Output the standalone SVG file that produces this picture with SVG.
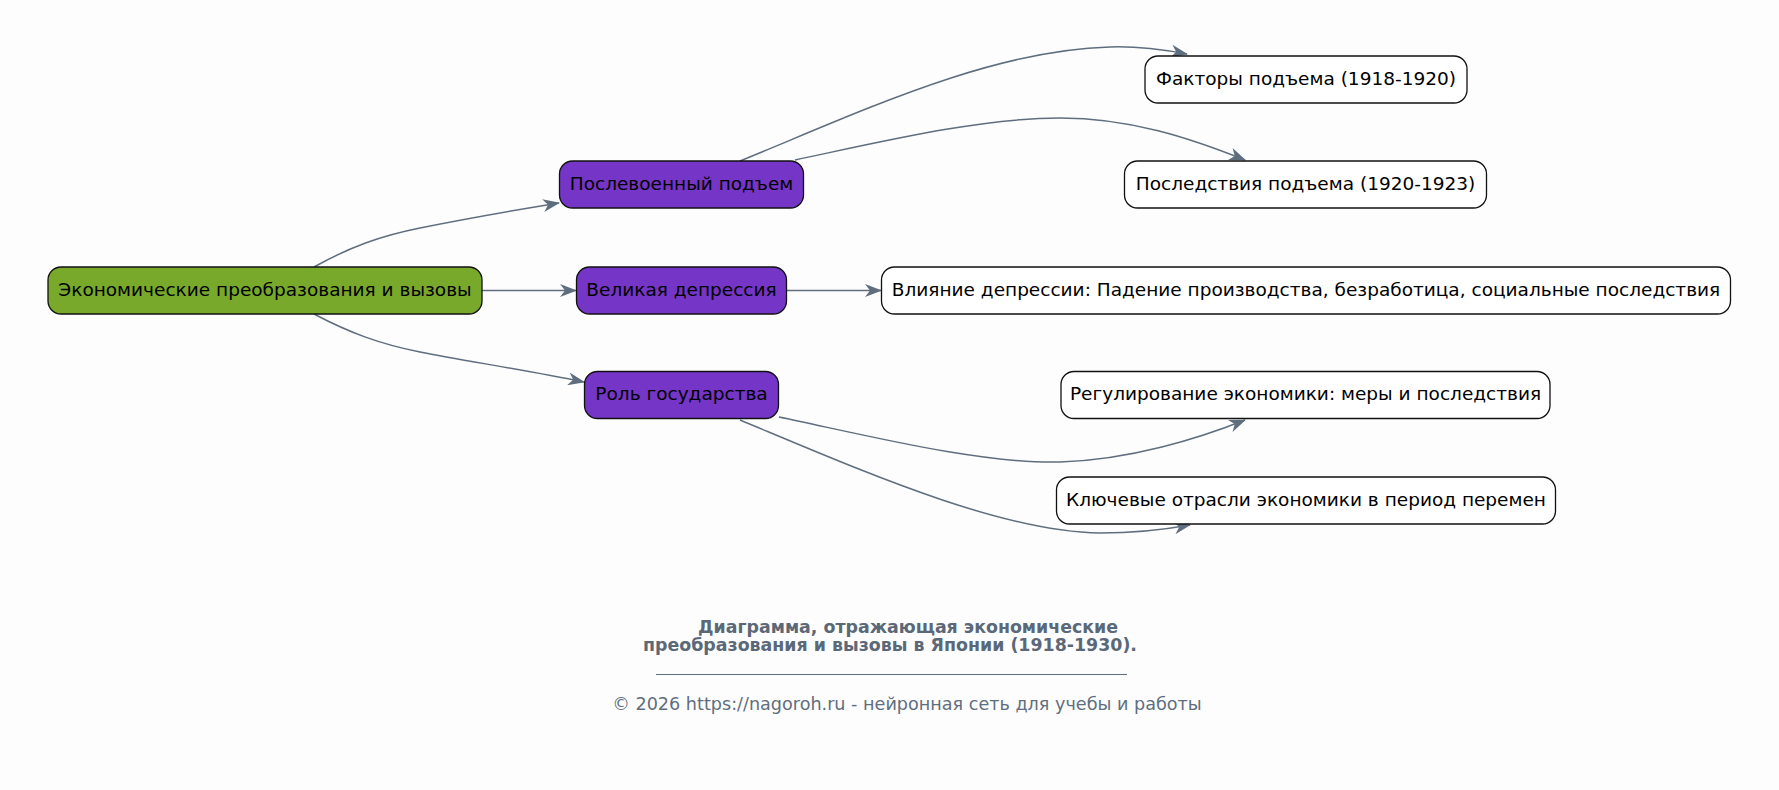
<svg xmlns="http://www.w3.org/2000/svg" width="1779" height="790" viewBox="0 0 1779 790">
<style>
.bg{fill:#fdfdfd}
.node rect{stroke:#111;stroke-width:1.3}
.root rect{fill:#78a92a}
.mid rect{fill:#7535c6}
.leaf rect{fill:#ffffff}
.node text{font-family:"DejaVu Sans",sans-serif;font-size:18.5px;fill:#000;text-anchor:middle}
.edge{fill:none;stroke:#5f6e7e;stroke-width:1.5;marker-end:url(#vee)}
.title{font-family:"DejaVu Sans",sans-serif;font-size:17.4px;font-weight:bold;fill:#5a6878}
.copy{font-family:"DejaVu Sans",sans-serif;font-size:17.6px;fill:#5f6e7e;text-anchor:middle}
</style>
<defs>
<marker id="vee" viewBox="0 0 17 13" refX="16" refY="6.5" markerWidth="17" markerHeight="13" markerUnits="userSpaceOnUse" orient="auto">
<path d="M0,0 L17,6.5 L0,13 L5,6.5 Z" fill="#5f6e7e"/>
</marker>
</defs>
<rect class="bg" x="0" y="0" width="1779" height="790"/>
<g id="connectors">
<path class="edge" d="M314,267 C350,247 380,236 420,228 C465,219 510,211 559,203"/>
<path class="edge" d="M482,290.5 L576,290.5"/>
<path class="edge" d="M314,314 C350,333 380,344 420,352 C465,361 520,369 584,382"/>
<path class="edge" d="M740,161 C860,112 990,50 1110,47 C1140,46 1165,50 1187,54"/>
<path class="edge" d="M795,160 C880,142 980,118 1060,118 C1130,118 1190,138 1245,160"/>
<path class="edge" d="M786,290.5 L881,290.5"/>
<path class="edge" d="M779,417 C870,436 980,464 1060,462 C1130,460 1200,438 1245,420"/>
<path class="edge" d="M740,420 C860,470 1000,532 1100,533 C1140,533 1168,529 1190,525"/>
</g>
<g id="root" class="node root"><rect x="48" y="267" width="434" height="47" rx="13"/><text x="265" y="295.5">Экономические преобразования и вызовы</text></g>
<g id="n1" class="node mid"><rect x="559.5" y="161" width="244" height="47" rx="13"/><text x="681.5" y="189.5">Послевоенный подъем</text></g>
<g id="n2" class="node mid"><rect x="576.5" y="267" width="210" height="47" rx="13"/><text x="681.5" y="295.5">Великая депрессия</text></g>
<g id="n3" class="node mid"><rect x="584.5" y="371.5" width="194" height="47" rx="13"/><text x="681.5" y="400">Роль государства</text></g>
<g id="n4" class="node leaf"><rect x="1145" y="56" width="322" height="47" rx="13"/><text x="1306" y="84.5">Факторы подъема (1918-1920)</text></g>
<g id="n5" class="node leaf"><rect x="1124.5" y="161" width="362" height="47" rx="13"/><text x="1305.5" y="189.5">Последствия подъема (1920-1923)</text></g>
<g id="n6" class="node leaf"><rect x="881.5" y="267" width="849" height="47" rx="13"/><text x="1306" y="295.5">Влияние депрессии: Падение производства, безработица, социальные последствия</text></g>
<g id="n7" class="node leaf"><rect x="1061" y="371.5" width="489" height="47" rx="13"/><text x="1305.5" y="400">Регулирование экономики: меры и последствия</text></g>
<g id="n8" class="node leaf"><rect x="1056.5" y="477" width="499" height="47" rx="13"/><text x="1306" y="505.5">Ключевые отрасли экономики в период перемен</text></g>
<g id="footer">
<text class="title" x="698" y="633">Диаграмма, отражающая экономические</text>
<text class="title" x="643" y="651">преобразования и вызовы в Японии (1918-1930).</text>
<line x1="656" y1="674.5" x2="1127" y2="674.5" stroke="#5f6e7e" stroke-width="1"/>
<text class="copy" x="907" y="710">© 2026 https://nagoroh.ru - нейронная сеть для учебы и работы</text>
</g>
</svg>
